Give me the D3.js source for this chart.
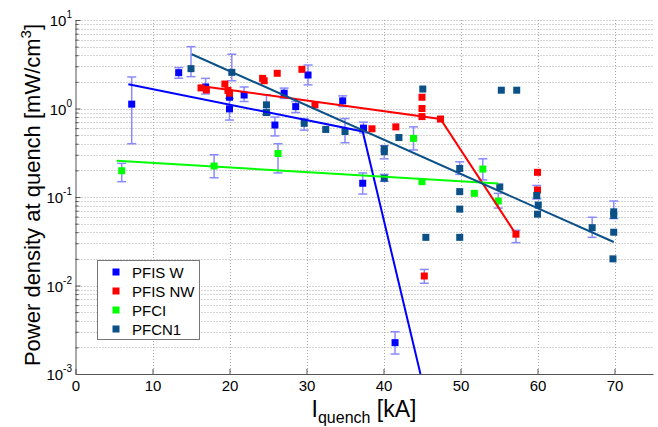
<!DOCTYPE html>
<html>
<head>
<meta charset="utf-8">
<script src="https://cdn.jsdelivr.net/npm/d3@7"></script>
<style>
  body { margin: 0; background: #fff; }
  text { font-family: "Liberation Sans", Arial, sans-serif; fill: #000; }
</style>
</head>
<body>
<div id="chart"></div>
<script>
// ─── data: [I_quench kA, power density, err low, err high] ──────────
const pfisW = [
  [7.3, 1.12, 0.40, 2.27], [13.4, 2.54, 2.2, 2.9], [16.9, 1.75, 1.46, 2.19],
  [20, 1.34], [20, 0.99, 0.74, 1.3], [21.9, 1.42, 1.2, 1.75],
  [25.9, 0.65, 0.49, 0.8], [27.1, 1.49, 1.3, 1.7], [28.6, 1.05, 0.9, 1.2],
  [30.2, 2.39, 1.85, 3.1], [34.7, 1.22, 1.05, 1.39], [37.4, 0.6, 0.53, 0.7],
  [37.3, 0.143, 0.108, 0.187], [41.5, 0.00226, 0.00168, 0.003]
];
const pfisNW = [
  [16.3, 1.71], [17.0, 1.62], [19.4, 1.89], [19.8, 1.6], [20.0, 1.49],
  [24.3, 2.19], [24.5, 2.06], [26.2, 2.5], [29.4, 2.77], [31.1, 1.1],
  [38.5, 0.59], [41.6, 0.62], [45, 1.34], [45, 1.0], [45, 0.81], [47.4, 0.76],
  [45.3, 0.0128, 0.0106, 0.0152], [57.2, 0.038, 0.0305, 0.042],
  [60, 0.19], [60, 0.12]
];
const pfci = [
  [6.0, 0.198, 0.149, 0.24], [18.0, 0.224, 0.165, 0.3], [26.3, 0.31, 0.187, 0.40],
  [43.9, 0.46, 0.34, 0.62], [45, 0.149], [51.8, 0.110],
  [52.9, 0.207, 0.156, 0.27], [54.9, 0.090, 0.075, 0.11]
];
const pfcn1 = [
  [15.0, 2.82, 2.29, 5.0], [20.3, 2.56, 2.06, 4.1], [24.8, 1.1], [24.8, 0.9, 0.85, 1.43],
  [29.7, 0.68, 0.57, 0.77], [32.5, 0.58], [35, 0.55, 0.41, 0.77],
  [40.1, 0.35], [40.1, 0.325, 0.27, 0.38], [40.1, 0.163, 0.15, 0.18], [42, 0.47],
  [45.1, 1.66], [45.5, 0.035], [49.9, 0.21, 0.18, 0.25], [49.9, 0.115],
  [49.9, 0.073], [49.9, 0.035], [55.1, 0.13], [55.3, 1.61], [57.3, 1.61],
  [59.9, 0.104, 0.095, 0.135], [60.1, 0.081], [60, 0.064],
  [67.1, 0.045, 0.035, 0.059], [69.9, 0.068, 0.057, 0.09], [69.9, 0.062],
  [69.9, 0.040], [69.8, 0.020]
];

// fitted trend lines
const pfisWFit  = [[6.86, 1.88], [37.3, 0.55], [44.8, 0.001]];
const pfisNWFit = [[16.2, 1.8], [47.4, 0.76], [57.2, 0.038]];
const pfciFit   = [[5.35, 0.257], [54.9, 0.142]];
const pfcn1Fit  = [[15.1, 4.1], [69.9, 0.031]];

const seriesNames = ["PFIS W", "PFIS NW", "PFCI", "PFCN1"];
const xTicks = [0, 10, 20, 30, 40, 50, 60, 70];
const yExponents = [1, 0, -1, -2, -3];

// ─── colours ─────────────────────────────────────────────────────
const colors = ["#0000ff", "#ff0000", "#00ff00", "#0b5087"];
const errColor = "#8a8aff";
const gridColor = "#a8a8a8";

const series = [
  { name: seriesNames[0], pts: pfisW,  fit: pfisWFit,  color: colors[0] },
  { name: seriesNames[1], pts: pfisNW, fit: pfisNWFit, color: colors[1] },
  { name: seriesNames[2], pts: pfci,   fit: pfciFit,   color: colors[2] },
  { name: seriesNames[3], pts: pfcn1,  fit: pfcn1Fit,  color: colors[3] }
];

// ─── layout ──────────────────────────────────────────────────────
const width = 658, height = 427;
const m = { left: 75.5, right: 5, top: 20, bottom: 53 };

const svg = d3.select("#chart").append("svg")
  .attr("width", width).attr("height", height);

const x = d3.scaleLinear().domain([0, 75]).range([m.left, width - m.right]);
const y = d3.scaleLog().domain([1e-3, 10]).range([height - m.bottom, m.top]);

// ─── grid ────────────────────────────────────────────────────────
const yGrid = [];
for (let e = -3; e < 1; e++) for (let k = 1; k < 10; k++) yGrid.push(k * Math.pow(10, e));
yGrid.push(10);

svg.append("g").selectAll("line").data(yGrid.filter(v => v > 1e-3)).join("line")
  .attr("x1", m.left).attr("x2", width - m.right)
  .attr("y1", d => Math.round(y(d)) + 0.5).attr("y2", d => Math.round(y(d)) + 0.5)
  .attr("stroke", gridColor).attr("stroke-width", 1)
  .attr("stroke-dasharray", "1,2");

svg.append("g").selectAll("line").data(xTicks.filter(v => v > 0)).join("line")
  .attr("x1", d => Math.round(x(d)) + 0.5).attr("x2", d => Math.round(x(d)) + 0.5)
  .attr("y1", m.top).attr("y2", height - m.bottom)
  .attr("stroke", gridColor).attr("stroke-width", 1)
  .attr("stroke-dasharray", "1,2");

// ─── axes ────────────────────────────────────────────────────────
const xAxis = svg.append("g")
  .attr("transform", `translate(0,${height - m.bottom})`)
  .call(d3.axisBottom(x).tickValues(xTicks).tickSizeInner(-5).tickSizeOuter(0).tickPadding(6));
xAxis.select(".domain").attr("stroke", "#555");
xAxis.selectAll(".tick line").attr("stroke", "#555");
xAxis.selectAll(".tick text")
  .style("font-family", "'Liberation Sans', Arial, sans-serif")
  .style("font-size", "15px").attr("fill", "#000");

const yAxis = svg.append("g")
  .attr("transform", `translate(${m.left},0)`)
  .call(d3.axisLeft(y).tickValues(yGrid).tickSizeInner(-3).tickSizeOuter(0).tickFormat(""));
yAxis.select(".domain").attr("stroke", "#555");
yAxis.selectAll(".tick line").attr("stroke", "#555")
  .attr("x2", d => Number.isInteger(Math.log10(d)) ? 5 : 3);

// y tick labels 10^n
const yLab = svg.append("g").selectAll("text").data(yExponents).join("text")
  .attr("x", 72).attr("y", d => y(Math.pow(10, d)) + 6)
  .attr("text-anchor", "end")
  .style("font-size", "15px");
yLab.append("tspan").text("10");
yLab.append("tspan").attr("dy", -8).style("font-size", "10px").text(d => d);

// axis titles
const xt = svg.append("text")
  .attr("x", 364).attr("y", 417).attr("text-anchor", "middle")
  .style("font-size", "23px");
xt.append("tspan").text("I");
xt.append("tspan").attr("dy", 6).style("font-size", "16px").text("quench");
xt.append("tspan").attr("dy", -6).text(" [kA]");

const yt = svg.append("text")
  .attr("transform", "translate(40,195) rotate(-90)")
  .attr("text-anchor", "middle")
  .style("font-size", "22px");
yt.append("tspan").text("Power density at quench [mW/cm");
yt.append("tspan").attr("dy", -9).style("font-size", "15px").text("3");
yt.append("tspan").attr("dy", 9).text("]");

// ─── plot content ────────────────────────────────────────────────
const plot = svg.append("g");
const cap = 4.5, ms = 7;

series.forEach(s => {
  const eb = s.pts.filter(p => p.length > 2);
  const g = plot.append("g");
  g.selectAll("line.v").data(eb).join("line")
    .attr("x1", d => x(d[0])).attr("x2", d => x(d[0]))
    .attr("y1", d => y(d[2])).attr("y2", d => y(d[3]))
    .attr("stroke", errColor).attr("stroke-width", 1.5);
  g.selectAll("line.lo").data(eb).join("line")
    .attr("x1", d => x(d[0]) - cap).attr("x2", d => x(d[0]) + cap)
    .attr("y1", d => y(d[2])).attr("y2", d => y(d[2]))
    .attr("stroke", errColor).attr("stroke-width", 1.5);
  g.selectAll("line.hi").data(eb).join("line")
    .attr("x1", d => x(d[0]) - cap).attr("x2", d => x(d[0]) + cap)
    .attr("y1", d => y(d[3])).attr("y2", d => y(d[3]))
    .attr("stroke", errColor).attr("stroke-width", 1.5);
});

const line = d3.line().x(d => x(d[0])).y(d => y(d[1]));

series.forEach(s => {
  plot.append("g").selectAll("rect").data(s.pts).join("rect")
    .attr("x", d => x(d[0]) - ms / 2).attr("y", d => y(d[1]) - ms / 2)
    .attr("width", ms).attr("height", ms)
    .attr("fill", s.color);
});

series.forEach(s => {
  plot.append("path").datum(s.fit)
    .attr("d", line).attr("fill", "none")
    .attr("stroke", s.color).attr("stroke-width", 2);
});

// ─── legend ──────────────────────────────────────────────────────
const lg = svg.append("g");
lg.append("rect")
  .attr("x", 97.5).attr("y", 260.5).attr("width", 102).attr("height", 79)
  .attr("fill", "#fff").attr("stroke", "#777");
series.forEach((s, i) => {
  const cy = 272 + i * 19;
  lg.append("rect")
    .attr("x", 116 - ms / 2).attr("y", cy - ms / 2)
    .attr("width", ms).attr("height", ms).attr("fill", s.color);
  lg.append("text")
    .attr("x", 132).attr("y", cy + 5.5)
    .style("font-size", "15px").text(s.name);
});
</script>
</body>
</html>
